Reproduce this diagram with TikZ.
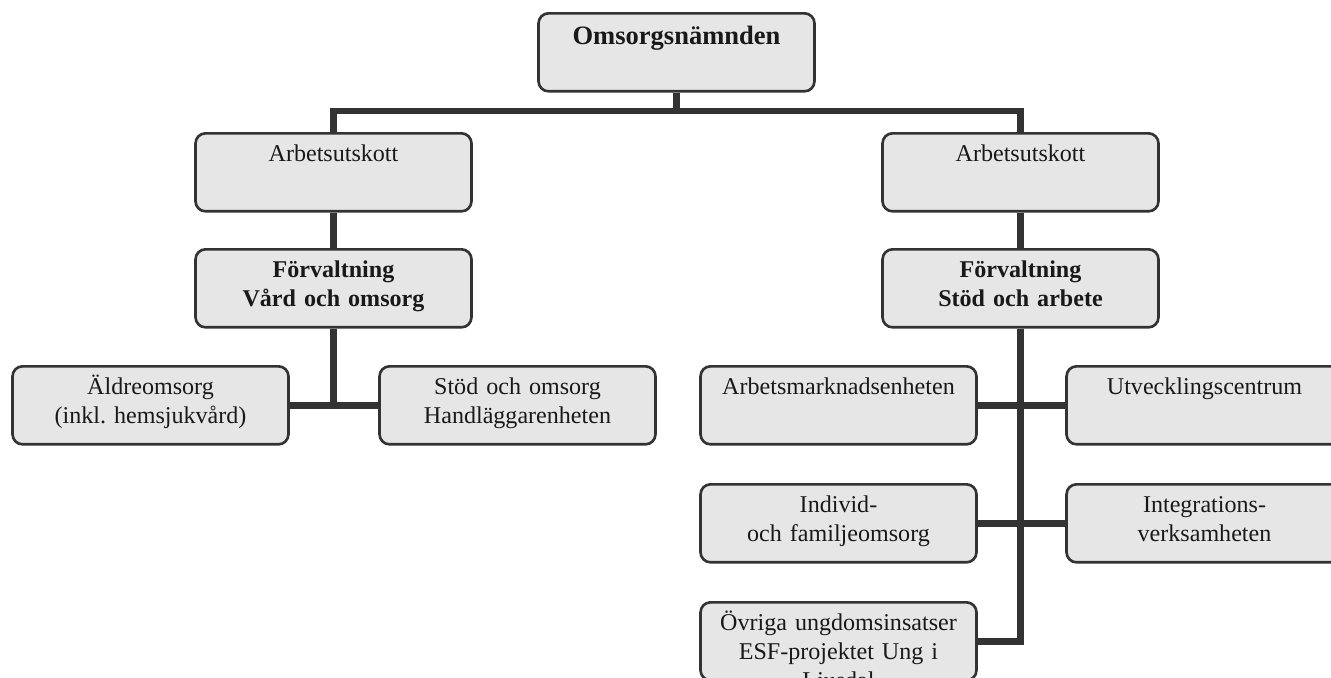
\documentclass[tikz,border=0pt]{standalone}
\usepackage{fontspec}
\setmainfont{Liberation Serif}
\definecolor{boxfill}{HTML}{E6E6E6}
\definecolor{boxline}{HTML}{333333}
\tikzset{
    orgbox/.style={draw=boxline, line width=1.5pt, fill=boxfill, rounded corners=0.2cm,
        inner sep=0pt, text width=5.52cm, align=center, anchor=north,
        text height=0.56cm, text depth=1.0cm, text=black!90,
        font=\fontsize{13.7}{16.5}\selectfont},
    boldbox/.style={orgbox, font=\fontsize{13.7}{16.5}\selectfont\bfseries},
    headbox/.style={orgbox, text height=0.62cm, text depth=0.94cm,
        font=\fontsize{15.1}{18}\selectfont\bfseries},
    link/.style={draw=boxline, line width=3.8pt}
}

\begin{document}
\begin{tikzpicture}[x=0.02cm, y=-0.02cm]
    \clip (0,0) rectangle (1331,677);

    % top level
    \node[headbox] (nmd) at (676.5,12) {Omsorgsnämnden};
    \coordinate (bar) at (676.5,111);

    % left branch
    \node[orgbox] (arbL) at (333.5,132) {Arbetsutskott};
    \node[boldbox] (forvL) at (333.5,248) {Förvaltning\\Vård och omsorg};
    \node[orgbox] (aldre) at (150.5,365) {Äldreomsorg\\(inkl.\ hemsjukvård)};
    \node[orgbox] (stod) at (517.5,365) {Stöd och omsorg\\Handläggarenheten};

    % right branch
    \node[orgbox] (arbR) at (1020.5,132) {Arbetsutskott};
    \node[boldbox] (forvR) at (1020.5,248) {Förvaltning\\Stöd och arbete};
    \node[orgbox] (arbm) at (838.5,365) {Arbetsmarknadsenheten};
    \node[orgbox] (utv) at (1204.5,365) {Utvecklingscentrum};
    \node[orgbox] (ind) at (838.5,483) {Individ-\\och familjeomsorg};
    \node[orgbox] (integ) at (1204.5,483) {Integrations-\\verksamheten};
    \node[orgbox] (ovr) at (838.5,601) {Övriga ungdomsinsatser\\ESF-projektet Ung i\\Ljusdal};

    % connectors
    \draw[link] (nmd) -- (bar);
    \draw[link] (arbL.north) |- (bar) -| (arbR.north);
    \draw[link] (arbL) -- (forvL);
    \draw[link] (forvL) -- (forvL |- aldre.east);
    \draw[link] (aldre) -- (stod);
    \draw[link] (arbR) -- (forvR);
    \draw[link] (forvR.south) |- (ovr.east);
    \draw[link] (arbm) -- (utv);
    \draw[link] (ind) -- (integ);
\end{tikzpicture}
\end{document}
